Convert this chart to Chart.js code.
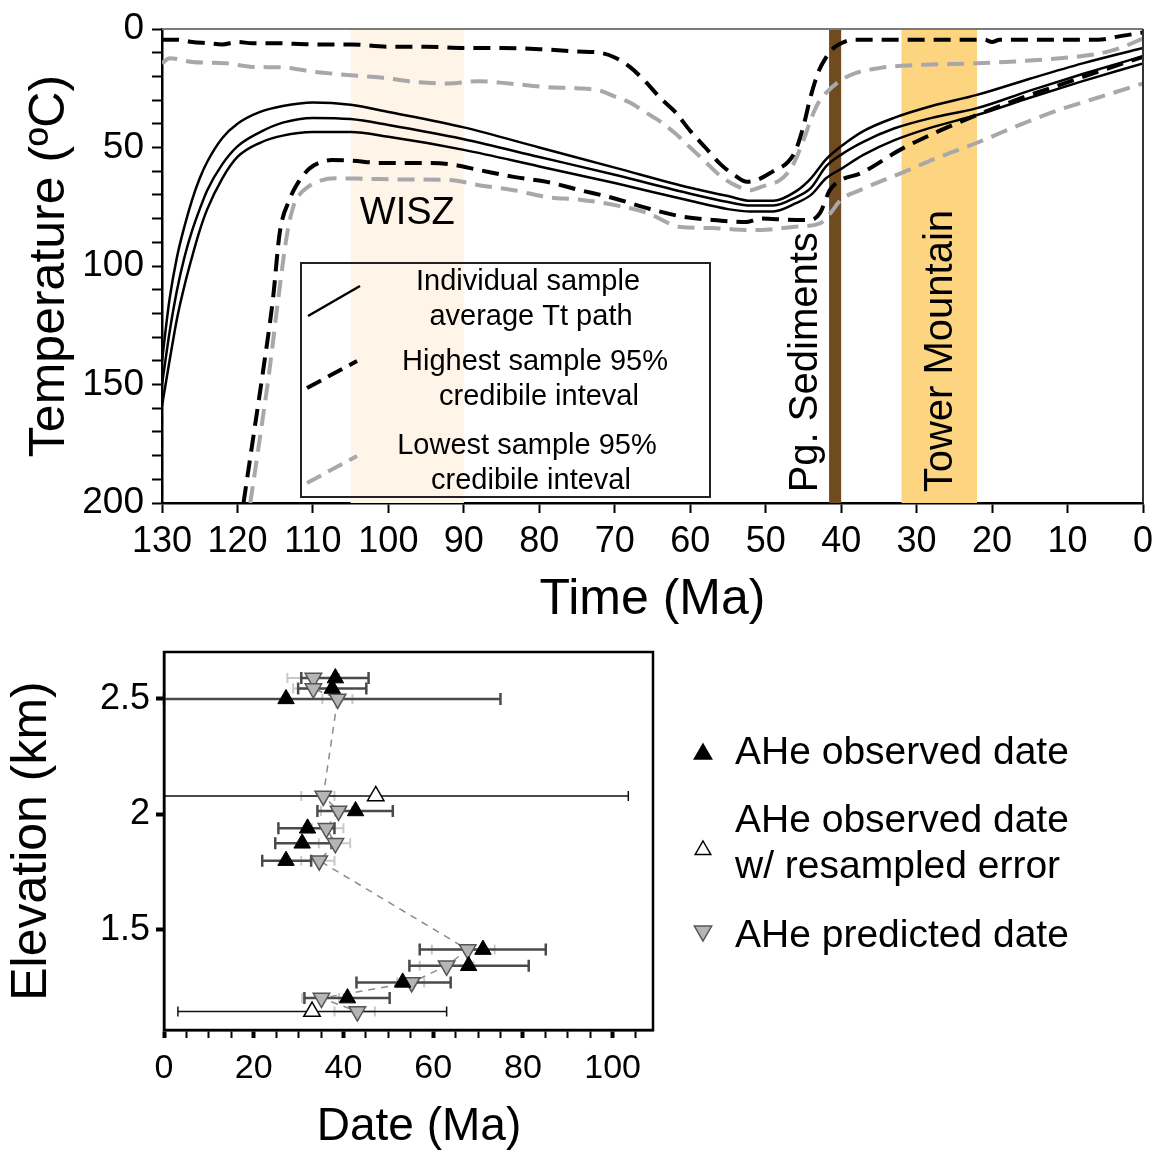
<!DOCTYPE html>
<html>
<head>
<meta charset="utf-8">
<title>Tt paths and AHe age-elevation</title>
<script src="https://cdn.jsdelivr.net/npm/chart.js@4.4.1/dist/chart.umd.min.js"></script>
<style>
  html, body { margin: 0; padding: 0; background: #fff; }
  #wrap { position: relative; width: 1152px; height: 1157px; overflow: hidden; }
  #ttChart { position: absolute; left: 0; top: 0; }
  #ageChart { position: absolute; left: 0; top: 640px; }
</style>
</head>
<body>
<div id="wrap">
  <canvas id="ttChart" width="1152" height="640"></canvas>
  <canvas id="ageChart" width="1152" height="517"></canvas>
</div>
<script>
// ---- top panel: time-temperature paths (age in Ma, temp in C) ----
const avgAge = [130, 129, 128, 127, 126, 125, 124, 122, 120, 117, 114, 110, 105, 100, 90, 80, 70, 60, 55, 52, 49, 46, 44, 42, 40, 37, 33, 28, 22, 15, 8, 0]
const avgTempA = [140, 114, 96, 83, 72, 63, 56, 46, 40, 35, 32.5, 31, 32, 35, 41.5, 50, 58.5, 67, 70.5, 72.5, 72.5, 68.5, 63, 55, 49.5, 43, 37.5, 32.5, 27.8, 21, 14.5, 8]
const avgTempB = [150, 128, 110, 96, 85, 76, 68, 57, 49.5, 43.5, 39.5, 37.5, 38, 40.5, 46.5, 54, 61.5, 69.5, 73, 74.5, 74.5, 71, 67, 58, 53, 47.5, 42, 37.5, 33.4, 26, 19, 11.5]
const avgTempC = [159, 140, 122, 108, 96, 85, 76, 63, 54, 48, 45, 43.5, 43.5, 45.5, 51, 58, 65, 72.5, 76, 77, 77, 73.5, 70, 63, 59, 53, 47, 41.5, 36.3, 29, 22, 14.5]

// highest sample 95% credible interval
const hiUpperAge = [130, 128, 126, 124, 122, 120, 118, 115, 110, 105, 100, 95, 90, 85, 80, 75, 72, 70, 68, 66, 64, 62, 60, 58, 56, 54, 52.5, 51, 49, 47, 46, 45, 44, 43, 42, 41, 40, 38.5, 30, 21, 20, 19, 10, 6, 3, 0]
const hiUpperTemp = [4.5, 4.5, 5.5, 6, 6.5, 5.5, 6, 6, 6.5, 6.5, 7.5, 7.5, 8, 8, 8.5, 9.5, 10, 12, 16, 22, 29, 35, 43, 50, 57, 62, 64.5, 63.5, 60, 56, 51, 41, 28, 18, 12, 8, 6, 4.5, 4.5, 4.5, 5.5, 4.5, 4.5, 4.5, 3, 1.5]
const hiLowerAge = [119.2, 117.8, 116.5, 115.3, 114.4, 113.1, 111.8, 110.5, 109.2, 107.5, 105, 101, 96, 92, 88, 83.4, 79, 74.6, 70, 65.7, 61.3, 57, 52.5, 50.7, 47, 44, 42.8, 41.5, 40, 37.5, 32.2, 27, 22, 16, 11, 5, 0]
const hiLowerTemp = [200, 170, 142, 114, 86, 72, 64, 59, 56.5, 55.3, 55.5, 56.5, 56.5, 57, 59.5, 62.4, 64.5, 68, 71.5, 75.6, 79, 80.6, 81.4, 80, 80.5, 80.6, 77.6, 68, 63.7, 61, 51, 43, 36.3, 29, 23.6, 17, 11.8]

// lowest sample 95% credible interval
const loUpperAge = [130, 129, 126, 121.5, 118, 114, 110, 105, 101, 96, 92, 88, 84, 79, 75, 72, 70, 68, 66, 64, 62, 60, 58, 56, 54, 52, 50.5, 48, 46.5, 45, 44, 43, 42, 40, 38, 35, 32, 28, 22, 16, 11, 6, 3, 0]
const loUpperTemp = [14.5, 12.3, 13.9, 14.5, 16, 16.2, 18, 19.5, 20.5, 22.5, 23, 22, 23, 24.5, 25, 26, 28.5, 31, 35, 39, 44, 50, 56, 62, 66, 68, 66.5, 63.5, 58, 47, 38, 31, 27, 21.5, 18.5, 16.5, 15.5, 15, 14.5, 13.5, 12.3, 10.5, 8, 4]
const loLowerAge = [118.3, 117, 115.8, 114.6, 113.4, 112.6, 111.8, 110.7, 109, 107, 103, 98, 92, 87.8, 83.4, 79, 74.6, 70, 65.7, 61.3, 57, 52.5, 50.7, 46.4, 42.8, 41.5, 40, 37.5, 32.2, 27, 22, 16, 11, 5, 0]
const loLowerTemp = [200, 172, 145, 114, 86, 75, 70, 66.7, 64, 63, 63.2, 63.5, 63.7, 66, 68, 70.9, 72, 74.3, 77.6, 83.5, 84, 84.8, 84.8, 83.5, 82, 78, 72, 68, 61, 54, 48, 40, 34, 28, 23]

// geologic events (Ma)
const bandFrom = [105, 41.6, 32]
const bandTo = [90, 40, 22]
const bandNames = ['WISZ', 'Pg. Sediments', 'Tower Mountain']
const bandColors = ['#fef4e8', '#6f4b1f', '#fdd47f']

// ---- bottom panel: AHe dates vs elevation ----
const elevObs = [2.59, 2.545, 2.50, 2.015, 1.94, 1.875, 1.80, 1.415, 1.345, 1.273, 1.205]
const dateObs = [38.2, 37.5, 27.2, 42.7, 32.0, 30.8, 27.2, 71.1, 67.9, 53.2, 40.9]
const obsLow = [30.6, 29.9, 0, 34.2, 25.5, 24.8, 21.9, 57.0, 54.7, 42.9, 31.3]
const obsHigh = [45.6, 45.1, 75, 51.0, 38.0, 37.3, 32.8, 85.1, 81.3, 63.9, 50.3]

const elevRes = [2.08, 1.147]
const dateRes = [47.2, 33.0]
const resLow = [0, 3.1]
const resHigh = [103.5, 63.0]

const elevPred = [2.59, 2.545, 2.50, 2.08, 2.015, 1.94, 1.875, 1.80, 1.415, 1.345, 1.273, 1.205, 1.147]
const datePred = [33.3, 33.3, 38.7, 35.5, 38.9, 36.2, 38.2, 34.6, 67.7, 63.0, 55.2, 35.1, 43.1]
const predLow = [27.5, 28.8, 35.3, 30.6, 35.0, 33.0, 34.5, 30.6, 59.7, 57.0, 52.0, 30.8, 38.0]
const predHigh = [39.0, 37.5, 42.0, 38.0, 42.0, 40.0, 41.5, 38.0, 73.7, 69.0, 58.0, 39.0, 47.0]

const legendNames = [['AHe observed date'], ['AHe observed date', 'w/ resampled error'], ['AHe predicted date']]

Chart.defaults.font.family = "'Liberation Sans', Arial, Helvetica, sans-serif"
Chart.defaults.color = '#000'

const pts = (xs, ys) => xs.map((x, i) => ({x: x, y: ys[i]}))

// pin the axis box so the plot area lands where the figure has it
const fixBox = (w, h) => s => {
  if (w) s.width = w
  if (h) s.height = h
  s.paddingTop = 0
  s.paddingBottom = 0
  s.paddingLeft = 0
  s.paddingRight = 0
}

const ttLine = (label, ages, temps, color, width, dash) => ({
  label: label,
  data: pts(ages, temps),
  borderColor: color,
  borderWidth: width,
  borderDash: dash,
  pointRadius: 0,
  cubicInterpolationMode: 'monotone',
  fill: false
})

/**
 * bands, event labels, inset legend and frame for the Tt panel
 */
const ttDecor = {
  id: 'ttDecor',
  beforeDatasetsDraw(chart) {
    const {ctx, chartArea: a, scales: {x}} = chart
    ctx.save()
    bandFrom.forEach((from, i) => {
      const x0 = x.getPixelForValue(from)
      const x1 = x.getPixelForValue(bandTo[i])
      ctx.fillStyle = bandColors[i]
      ctx.fillRect(x0, a.top, x1 - x0, a.bottom - a.top)
    })
    ctx.restore()
  },
  afterDatasetsDraw(chart) {
    const {ctx, chartArea: a, scales: {x, y}} = chart
    ctx.save()
    ctx.fillStyle = '#000'

    // event labels
    ctx.font = "38px 'Liberation Sans', Arial, sans-serif"
    ctx.textAlign = 'center'
    ctx.textBaseline = 'middle'
    ctx.fillText(bandNames[0], x.getPixelForValue((bandFrom[0] + bandTo[0]) / 2), y.getPixelForValue(78))
    const vText = (text, px, py) => {
      ctx.save()
      ctx.translate(px, py)
      ctx.rotate(-Math.PI / 2)
      ctx.textAlign = 'left'
      ctx.textBaseline = 'alphabetic'
      ctx.fillText(text, 0, 0)
      ctx.restore()
    }
    ctx.font = "40px 'Liberation Sans', Arial, sans-serif"
    vText(bandNames[1], x.getPixelForValue(43.2), y.getPixelForValue(195.5))
    vText(bandNames[2], x.getPixelForValue(25.3), y.getPixelForValue(195.5))

    // inset legend
    ctx.strokeStyle = '#222'
    ctx.lineWidth = 2
    ctx.strokeRect(301, 263, 409, 234)
    const sample = (x0, y0, x1, y1, color, dash) => {
      ctx.beginPath()
      ctx.setLineDash(dash)
      ctx.strokeStyle = color
      ctx.lineWidth = dash.length ? 4 : 2.5
      ctx.moveTo(x0, y0)
      ctx.lineTo(x1, y1)
      ctx.stroke()
    }
    sample(308, 316, 360, 286, '#000', [])
    sample(307, 388, 357, 361, '#000', [16, 8])
    sample(307, 483, 357, 456, '#a7a8ab', [16, 8])
    ctx.setLineDash([])
    ctx.font = "29px 'Liberation Sans', Arial, sans-serif"
    ctx.textAlign = 'center'
    ctx.textBaseline = 'middle'
    const rows = ['Individual sample', 'average Tt path', 'Highest sample 95%', 'credibile inteval', 'Lowest sample 95%', 'credibile inteval']
    const rowX = [528, 531, 535, 539, 527, 531]
    const rowY = [282, 317, 362, 397, 446, 481]
    rows.forEach((t, i) => ctx.fillText(t, rowX[i], rowY[i]))

    // frame
    ctx.lineWidth = 2
    ctx.strokeStyle = '#7a7a7a'
    ctx.beginPath()
    ctx.moveTo(a.left, a.top)
    ctx.lineTo(a.right, a.top)
    ctx.stroke()
    ctx.strokeStyle = '#333'
    ctx.beginPath()
    ctx.moveTo(a.right, a.top)
    ctx.lineTo(a.right, a.bottom)
    ctx.stroke()
    ctx.restore()
  }
}

const ttChart = new Chart(document.getElementById('ttChart'), {
  type: 'line',
  data: {
    datasets: [
      ttLine('Individual sample average Tt path', avgAge, avgTempA, '#000', 2.5, []),
      ttLine('Individual sample average Tt path', avgAge, avgTempB, '#000', 2.5, []),
      ttLine('Individual sample average Tt path', avgAge, avgTempC, '#000', 2.5, []),
      ttLine('Highest sample 95% credibile inteval', hiUpperAge, hiUpperTemp, '#000', 4, [17, 9]),
      ttLine('Highest sample 95% credibile inteval', hiLowerAge, hiLowerTemp, '#000', 4, [17, 9]),
      ttLine('Lowest sample 95% credibile inteval', loUpperAge, loUpperTemp, '#a7a8ab', 4, [17, 9]),
      ttLine('Lowest sample 95% credibile inteval', loLowerAge, loLowerTemp, '#a7a8ab', 4, [17, 9])
    ]
  },
  options: {
    responsive: false,
    animation: false,
    layout: {padding: {top: 29, right: 9, left: 0, bottom: 0}},
    plugins: {legend: {display: false}, tooltip: {enabled: false}},
    scales: {
      x: {
        type: 'linear',
        reverse: true,
        min: 0,
        max: 130,
        afterFit: fixBox(0, 137),
        ticks: {stepSize: 10, autoSkip: false, maxRotation: 0, padding: 7, font: {size: 36}},
        grid: {drawOnChartArea: false, tickLength: 10, tickWidth: 2, tickColor: '#000'},
        border: {color: '#000', width: 2.5},
        title: {display: true, text: 'Time (Ma)', font: {size: 50}, padding: {top: 0, bottom: 10}}
      },
      y: {
        type: 'linear',
        reverse: true,
        min: 0,
        max: 200,
        afterFit: fixBox(162, 0),
        ticks: {stepSize: 10, autoSkip: false, padding: 8, font: {size: 37}, callback: v => v % 50 === 0 ? v : ''},
        grid: {drawOnChartArea: false, tickLength: 10, tickWidth: 2, tickColor: '#000'},
        border: {color: '#000', width: 2.5},
        title: {display: true, text: 'Temperature (ºC)', font: {size: 50}, padding: {top: 20, bottom: 0}}
      }
    }
  },
  plugins: [ttDecor]
})

/**
 * error bars for the age-elevation panel + side legend
 */
const ageDecor = {
  id: 'ageDecor',
  beforeDatasetsDraw(chart) {
    const {ctx, scales: {x, y}} = chart
    ctx.save()
    const bar = (lo, hi, elev, color, width, cap) => {
      const py = y.getPixelForValue(elev)
      const x0 = x.getPixelForValue(lo)
      const x1 = x.getPixelForValue(hi)
      ctx.strokeStyle = color
      ctx.lineWidth = width
      ctx.beginPath()
      ctx.moveTo(x0, py)
      ctx.lineTo(x1, py)
      ctx.moveTo(x0, py - cap)
      ctx.lineTo(x0, py + cap)
      ctx.moveTo(x1, py - cap)
      ctx.lineTo(x1, py + cap)
      ctx.stroke()
    }
    elevPred.forEach((e, i) => bar(predLow[i], predHigh[i], e, '#c9c9c9', 2, 5))
    elevRes.forEach((e, i) => bar(resLow[i], resHigh[i], e, '#111', 1.5, 5))
    elevObs.forEach((e, i) => bar(obsLow[i], obsHigh[i], e, '#4a4a4a', 2.5, 6))
    ctx.restore()
  },
  afterDraw(chart) {
    const {ctx, chartArea: a} = chart
    ctx.save()
    // frame
    ctx.strokeStyle = '#000'
    ctx.lineWidth = 2.5
    ctx.strokeRect(a.left, a.top, a.right - a.left, a.bottom - a.top)

    // x title sits a bit right of the plot centre in the figure
    ctx.fillStyle = '#000'
    ctx.font = "46px 'Liberation Sans', Arial, sans-serif"
    ctx.textAlign = 'center'
    ctx.textBaseline = 'middle'
    ctx.fillText('Date (Ma)', 419, 487)

    // legend
    const tri = (cx, cy, r, rot, fill, stroke) => {
      ctx.save()
      ctx.translate(cx, cy)
      ctx.rotate(rot)
      ctx.beginPath()
      ctx.moveTo(0, -r)
      ctx.lineTo(r * 0.866, r * 0.5)
      ctx.lineTo(-r * 0.866, r * 0.5)
      ctx.closePath()
      ctx.fillStyle = fill
      ctx.fill()
      ctx.strokeStyle = stroke
      ctx.lineWidth = 1.5
      ctx.stroke()
      ctx.restore()
    }
    tri(703, 114, 10, 0, '#000', '#000')
    tri(703, 210, 9, 0, '#fff', '#000')
    tri(703, 291, 10, Math.PI, '#b5b5b5', '#555')
    ctx.fillStyle = '#000'
    ctx.font = "39px 'Liberation Sans', Arial, sans-serif"
    ctx.textAlign = 'left'
    ctx.textBaseline = 'middle'
    const lineY = [[113], [181, 227], [296]]
    legendNames.forEach((lines, i) => lines.forEach((t, j) => ctx.fillText(t, 735, lineY[i][j])))
    ctx.restore()
  }
}

const ageChart = new Chart(document.getElementById('ageChart'), {
  type: 'scatter',
  data: {
    datasets: [
      {
        label: legendNames[0].join(' '),
        data: pts(dateObs, elevObs),
        pointStyle: 'triangle',
        pointRadius: 9.5,
        pointBackgroundColor: '#000',
        pointBorderColor: '#000',
        pointBorderWidth: 1,
        order: 0
      },
      {
        label: legendNames[1].join(' '),
        data: pts(dateRes, elevRes),
        pointStyle: 'triangle',
        pointRadius: 9.5,
        pointBackgroundColor: '#fff',
        pointBorderColor: '#000',
        pointBorderWidth: 1.5,
        order: 1
      },
      {
        label: legendNames[2].join(' '),
        data: pts(datePred, elevPred),
        showLine: true,
        borderColor: '#8c8c8c',
        borderWidth: 1.5,
        borderDash: [7, 6],
        pointStyle: 'triangle',
        pointRotation: 180,
        pointRadius: 9.5,
        pointBackgroundColor: '#b5b5b5',
        pointBorderColor: '#555',
        pointBorderWidth: 1.5,
        order: 2
      }
    ]
  },
  options: {
    responsive: false,
    animation: false,
    layout: {padding: {top: 12, right: 499, left: 0, bottom: 0}},
    plugins: {legend: {display: false}, tooltip: {enabled: false}},
    scales: {
      x: {
        type: 'linear',
        min: 0,
        max: 109,
        afterFit: fixBox(0, 127),
        afterBuildTicks: s => { s.ticks = Array.from({length: 22}, (_, i) => ({value: i * 5})) },
        ticks: {autoSkip: false, maxRotation: 0, padding: 10, font: {size: 34}, callback: v => v % 20 === 0 ? v : ''},
        grid: {drawOnChartArea: false, tickLength: 8, tickColor: '#000', tickWidth: c => (c.tick && c.tick.value % 20 === 0) ? 4 : 2},
        border: {color: '#000', width: 2.5}
      },
      y: {
        type: 'linear',
        min: 1.067,
        max: 2.703,
        afterFit: fixBox(164, 0),
        afterBuildTicks: s => { s.ticks = [1.5, 2, 2.5].map(v => ({value: v})) },
        ticks: {autoSkip: false, padding: 6, font: {size: 36}, callback: v => v},
        grid: {drawOnChartArea: false, tickLength: 8, tickColor: '#000', tickWidth: 4},
        border: {color: '#000', width: 2.5},
        title: {display: true, text: 'Elevation (km)', font: {size: 50}, padding: {top: 2, bottom: 0}}
      }
    }
  },
  plugins: [ageDecor]
})
</script>
</body>
</html>
